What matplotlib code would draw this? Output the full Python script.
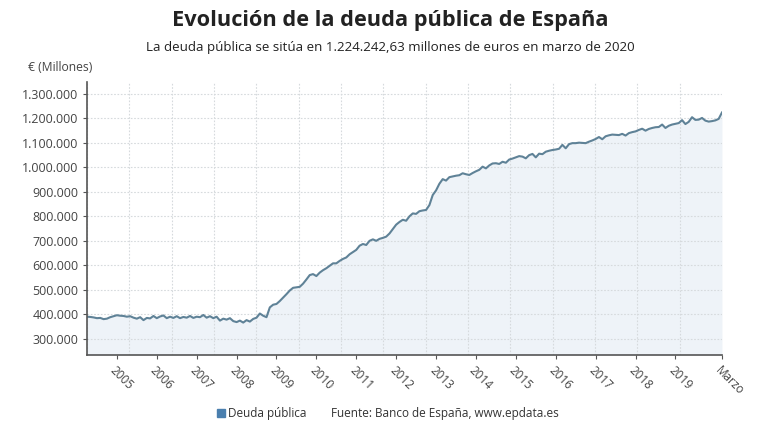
import matplotlib
matplotlib.use("Agg")
import matplotlib.pyplot as plt
from matplotlib.lines import Line2D
from matplotlib.ticker import FixedLocator, FuncFormatter
import numpy as np
import pandas as pd

plt.rcParams['font.family'] = ['Open Sans', 'DejaVu Sans']

# Monthly public debt (millions of euros), April 2004 - March 2020
start_month = "2004-04"
deuda_2004 = [390000, 389000, 387000, 384000, 385000, 380000, 382000, 388000, 392000]
deuda_2005 = [396000, 394000, 393000, 390000, 392000, 386000, 382000, 388000, 376000, 385000, 383000, 393000]
deuda_2006 = [384000, 391000, 395000, 384000, 390000, 385000, 392000, 384000, 389000, 386000, 393000, 385000]
deuda_2007 = [390000, 388000, 397000, 386000, 392000, 384000, 390000, 374000, 382000, 378000, 384000, 372000]
deuda_2008 = [368000, 374000, 366000, 376000, 370000, 381000, 386000, 403000, 394000, 388000, 428000, 439000]
deuda_2009 = [442000, 454000, 468000, 482000, 497000, 508000, 510000, 512000, 525000, 542000, 560000, 564000]
deuda_2010 = [556000, 570000, 580000, 588000, 598000, 608000, 608000, 618000, 626000, 632000, 645000, 654000]
deuda_2011 = [663000, 680000, 687000, 683000, 700000, 706000, 700000, 708000, 712000, 717000, 730000, 748000]
deuda_2012 = [766000, 777000, 786000, 782000, 800000, 812000, 810000, 821000, 824000, 826000, 846000, 887000]
deuda_2013 = [906000, 933000, 952000, 946000, 960000, 963000, 966000, 968000, 976000, 972000, 969000, 977000]
deuda_2014 = [984000, 990000, 1003000, 996000, 1008000, 1016000, 1017000, 1014000, 1023000, 1019000, 1032000, 1036000]
deuda_2015 = [1041000, 1046000, 1044000, 1037000, 1050000, 1055000, 1041000, 1056000, 1054000, 1064000, 1068000, 1071000]
deuda_2016 = [1073000, 1076000, 1092000, 1078000, 1095000, 1099000, 1099000, 1101000, 1100000, 1099000, 1105000, 1110000]
deuda_2017 = [1116000, 1124000, 1115000, 1127000, 1131000, 1134000, 1133000, 1132000, 1137000, 1130000, 1140000, 1144000]
deuda_2018 = [1147000, 1153000, 1158000, 1150000, 1157000, 1161000, 1164000, 1165000, 1175000, 1161000, 1170000, 1175000]
deuda_2019 = [1178000, 1181000, 1193000, 1177000, 1186000, 1205000, 1194000, 1195000, 1202000, 1191000, 1187000, 1189000]
deuda_2020 = [1192000, 1198000, 1224242.63]

deuda = (deuda_2004 + deuda_2005 + deuda_2006 + deuda_2007 + deuda_2008 + deuda_2009 +
         deuda_2010 + deuda_2011 + deuda_2012 + deuda_2013 + deuda_2014 + deuda_2015 +
         deuda_2016 + deuda_2017 + deuda_2018 + deuda_2019 + deuda_2020)

tick_years = list(range(2005, 2020))
last_label = "Marzo"
y_ticks = [300000, 400000, 500000, 600000, 700000, 800000, 900000, 1000000,
           1100000, 1200000, 1300000]

title = "Evolución de la deuda pública de España"
subtitle = "La deuda pública se sitúa en 1.224.242,63 millones de euros en marzo de 2020"
unit_label = "€ (Millones)"
legend_label = "Deuda pública"
source = "Fuente: Banco de España, www.epdata.es"

dates = pd.date_range(start_month, periods=len(deuda), freq="MS")
x = np.arange(len(deuda))

fig = plt.figure(figsize=(7.8, 4.4), dpi=100)
ax = fig.add_axes([0.1115, 0.194, 0.8141, 0.6203])

ymin, ymax = 235000, 1350000
line_color = "#5f8297"
ax.fill_between(x, deuda, ymin, color="#eef3f8", lw=0)
ax.plot(x, deuda, color=line_color, lw=1.5, solid_joinstyle="round")

ax.set_xlim(0, len(deuda) - 1)
ax.set_ylim(ymin, ymax)

# x ticks at January of each year + last month
jan_idx = [int(np.where((dates.year == y) & (dates.month == 1))[0][0]) for y in tick_years]
ax.set_xticks(jan_idx + [len(deuda) - 1])
ax.set_xticklabels([str(y) for y in tick_years] + [last_label])
for lbl in ax.get_xticklabels():
    lbl.set_rotation(-45)
    lbl.set_ha("left")
    lbl.set_va("top")
    lbl.set_rotation_mode("anchor")

ax.xaxis.set_minor_locator(FixedLocator(np.linspace(0, len(deuda) - 1, 16)))
ax.set_yticks(y_ticks)
ax.yaxis.set_major_formatter(FuncFormatter(lambda v, p: f"{v:,.0f}".replace(",", ".")))

ax.grid(which="minor", axis="x", color="#d6dadd", lw=0.8, ls=(0, (1.5, 1.5)))
ax.grid(which="major", axis="y", color="#d6dadd", lw=0.8, ls=(0, (1.5, 1.5)))
ax.tick_params(axis="x", which="minor", length=0)
ax.tick_params(axis="x", which="major", length=3, color="#555555", labelsize=8.5,
               labelcolor="#444444", pad=4)
ax.tick_params(axis="y", which="major", length=3, color="#555555", labelsize=9,
               labelcolor="#444444", pad=3)

for s in ["top", "right"]:
    ax.spines[s].set_visible(False)
for s in ["left", "bottom"]:
    ax.spines[s].set_color("#555555")
    ax.spines[s].set_linewidth(1.2)

fig.text(0.5, 0.953, title, ha="center", va="center", fontsize=15.7, fontweight="bold",
         color="#222222")
fig.text(0.5, 0.893, subtitle, ha="center", va="center", fontsize=9.6, color="#222222")
fig.text(0.036, 0.846, unit_label, ha="left", va="center", fontsize=8.7, color="#444444")

handle = Line2D([], [], marker="s", ls="", color="#4a7fae", markersize=5.5, label=legend_label)
fig.legend(handles=[handle], loc="center left", bbox_to_anchor=(0.268, 0.061), frameon=False,
           fontsize=8.5, handletextpad=0.1, borderpad=0, handlelength=1.0,
           labelcolor="#333333")
fig.text(0.4245, 0.061, source, ha="left", va="center", fontsize=8.5, color="#333333")

fig.savefig("out.png", dpi=100, facecolor="white")
